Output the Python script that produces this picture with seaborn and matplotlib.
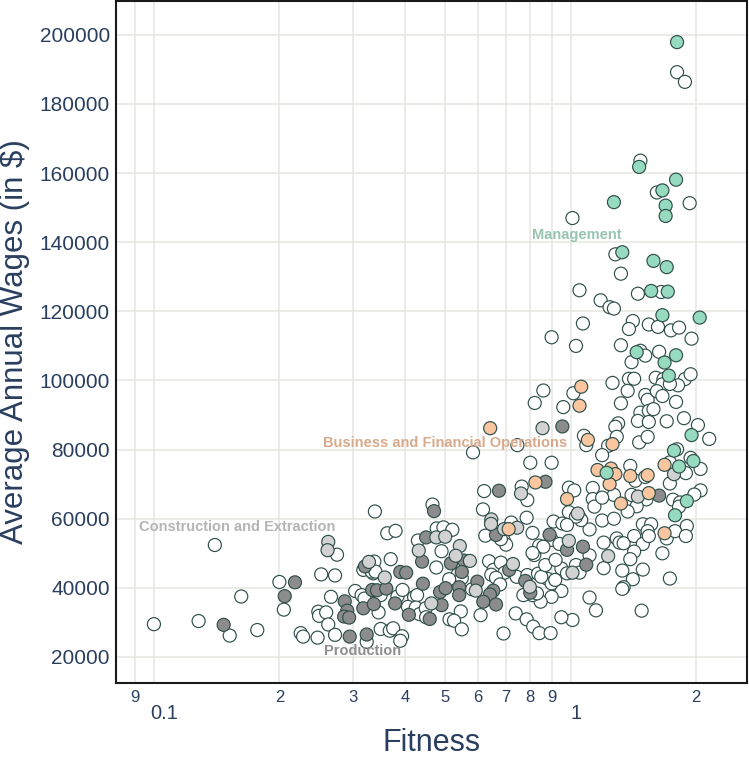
import matplotlib
matplotlib.use("Agg")
import matplotlib.pyplot as plt
from matplotlib.ticker import FixedLocator, NullLocator
import pandas as pd
import seaborn as sns

# (fitness, average annual wage)
management = [
    (1.80, 197900), (1.46, 161800), (1.79, 158100), (1.66, 155000), (1.27, 151600),
    (1.69, 150600), (1.69, 147600), (1.33, 137100), (1.58, 134600), (1.70, 132800),
    (1.56, 125900), (1.71, 125700), (1.66, 118900), (2.04, 118200), (1.44, 108200),
    (1.79, 107300), (1.68, 105200), (1.72, 101400), (1.95, 84200), (1.77, 79700),
    (1.97, 76700), (1.82, 75100), (1.22, 73300), (1.90, 65100), (1.78, 61000),
]
business = [
    (1.06, 98200), (1.05, 92700), (0.641, 86200), (0.823, 70500), (0.98, 65700),
    (1.10, 82800), (1.26, 81600), (1.16, 74100), (1.25, 74500), (1.28, 72900),
    (1.39, 72400), (1.53, 72600), (1.24, 70000), (1.54, 67400), (1.32, 64400),
    (1.68, 75600), (1.68, 55800), (0.71, 57000),
]
construction = [
    (0.856, 86200), (0.76, 67300), (0.262, 53300), (0.261, 50900), (0.328, 47500),
    (0.358, 43000), (0.432, 50800), (0.476, 54600), (0.50, 54800), (0.542, 52100),
    (0.53, 49300), (0.573, 47800), (0.645, 59800), (0.644, 58500), (0.692, 57000),
    (0.744, 57400), (0.727, 46900), (0.798, 40300), (0.592, 39200), (0.463, 35500),
    (0.99, 53600), (1.01, 44400), (1.23, 49200), (1.04, 61500), (1.77, 72900),
    (1.45, 66400),
]
production = [
    (0.147, 29300), (0.218, 41600), (0.206, 37600), (0.287, 36100), (0.291, 33400),
    (0.286, 31700), (0.294, 31400), (0.295, 25900), (0.324, 26500), (0.318, 34100),
    (0.321, 46200), (0.337, 35300), (0.334, 39400), (0.343, 39300), (0.361, 39800),
    (0.379, 35500), (0.39, 44600), (0.403, 44400), (0.409, 32200), (0.442, 41200),
    (0.45, 54600), (0.44, 47600), (0.459, 31000), (0.47, 62200), (0.486, 38800),
    (0.49, 35000), (0.501, 39900), (0.516, 47100), (0.54, 40200), (0.54, 37900),
    (0.555, 47900), (0.548, 44600), (0.597, 41800), (0.652, 39200), (0.64, 38100),
    (0.617, 36000), (0.662, 35200), (0.662, 55300), (0.673, 68100), (0.712, 45200),
    (0.778, 42000), (0.80, 38600), (0.87, 70700), (0.89, 55400), (0.955, 86700),
    (0.98, 51000), (1.07, 51900), (1.09, 46700), (1.63, 66700),
]
other = [
    (1.80, 189200), (1.88, 186400), (1.47, 163600), (1.61, 154400), (1.93, 151300),
    (1.01, 147000), (1.28, 136500), (1.32, 130900), (1.05, 126100), (1.45, 125100),
    (1.65, 125600), (1.18, 123200), (1.24, 121200), (1.27, 120800), (1.07, 116500),
    (1.41, 117200), (1.38, 114900), (1.54, 116200), (1.62, 115500), (1.74, 114500),
    (1.82, 115300), (0.90, 112500), (1.03, 110000), (1.32, 110200), (1.95, 112100),
    (1.47, 108600), (1.51, 107200), (1.63, 108300), (1.40, 105300), (1.38, 100500),
    (1.42, 100500), (1.60, 100800), (1.67, 100400), (1.66, 98900), (1.88, 100400),
    (1.94, 101800), (1.81, 98600), (1.26, 99300), (1.015, 96300), (0.86, 97100),
    (0.82, 93500), (0.96, 92300), (1.37, 97000), (1.51, 95800), (1.53, 94400),
    (1.61, 96900), (1.66, 95500), (1.73, 99000), (1.79, 93800), (1.32, 93400),
    (1.47, 90700), (1.54, 91200), (1.58, 91700), (1.45, 88300), (1.54, 88000),
    (1.70, 88200), (1.87, 89100), (1.30, 87600), (1.28, 86600), (2.02, 87100),
    (2.15, 83100), (1.076, 84000), (1.09, 81300), (1.23, 81100), (1.29, 83700),
    (1.46, 82100), (1.53, 83700), (1.19, 78400), (1.80, 80100), (1.94, 77600),
    (2.05, 74400), (1.73, 76300), (1.89, 73200), (1.39, 75300), (1.43, 71000),
    (1.51, 72100), (1.73, 70200), (0.99, 69000), (1.02, 68200), (1.13, 68900),
    (1.27, 66900), (1.40, 66900), (1.52, 65600), (2.05, 68200), (1.98, 67000),
    (1.76, 65500), (1.83, 64700), (1.13, 65700), (1.14, 63500), (1.19, 66100),
    (1.44, 63600), (1.37, 62100), (1.82, 63500), (0.99, 61900), (1.05, 60400),
    (1.19, 59500), (1.27, 60000), (1.49, 58400), (1.56, 58400), (1.90, 57900),
    (1.20, 53100), (1.29, 54300), (1.31, 53100), (1.34, 52900), (1.42, 55000),
    (1.49, 52700), (1.53, 56400), (1.54, 55000), (1.70, 54300), (1.78, 56400),
    (1.89, 55000), (1.42, 50500), (1.39, 48300), (1.33, 45000), (1.49, 45300),
    (1.41, 42500), (1.66, 50000), (1.34, 40200), (1.33, 39700), (1.73, 42700),
    (1.11, 37200), (1.15, 33500), (1.48, 33400), (1.01, 30700), (0.95, 31500),
    (0.95, 39100), (1.11, 49400), (1.20, 45700), (1.03, 46600), (1.05, 44400),
    (0.95, 45600), (0.98, 44200), (0.90, 53900), (0.94, 52700), (1.11, 56900),
    (1.06, 59600), (1.03, 60600), (0.91, 59200), (0.955, 58600), (0.98, 58200),
    (0.583, 79200), (0.745, 81300), (0.80, 76200), (0.90, 76200), (0.62, 68000),
    (0.763, 69300), (0.787, 65400), (0.466, 64100), (0.616, 62700), (0.339, 62100),
    (0.784, 60300), (0.81, 55900), (0.624, 55100), (0.69, 53900), (0.70, 52500),
    (0.68, 54100), (0.72, 58900), (0.363, 55800), (0.38, 56500), (0.43, 53700),
    (0.477, 57200), (0.495, 57500), (0.52, 56800), (0.49, 50600), (0.637, 47700),
    (0.653, 45200), (0.476, 45900), (0.536, 43900), (0.548, 42800), (0.511, 42500),
    (0.338, 47600), (0.336, 44200), (0.37, 48300), (0.275, 49600), (0.252, 43900),
    (0.272, 43600), (0.318, 45200), (0.333, 44700), (0.34, 44700), (0.20, 41700),
    (0.205, 33700), (0.266, 37400), (0.304, 39100), (0.315, 37900), (0.32, 36900),
    (0.248, 33100), (0.249, 31900), (0.259, 32900), (0.262, 29400), (0.35, 37900),
    (0.384, 37500), (0.395, 39400), (0.421, 37300), (0.428, 37900), (0.346, 32900),
    (0.407, 34500), (0.425, 34300), (0.434, 32400), (0.449, 34100), (0.45, 31500),
    (0.225, 26900), (0.228, 25900), (0.247, 25600), (0.272, 26400), (0.324, 24400),
    (0.35, 28100), (0.368, 27600), (0.375, 28300), (0.394, 26000), (0.39, 24700),
    (0.10, 29500), (0.128, 30400), (0.152, 26200), (0.14, 52400), (0.162, 37500),
    (0.177, 27800), (0.545, 33200), (0.512, 30900), (0.525, 30500), (0.548, 28000),
    (0.608, 32100), (0.738, 32600), (0.784, 30900), (0.813, 28800), (0.841, 26900),
    (0.895, 26900), (0.69, 26800), (0.90, 37400), (0.847, 36000), (0.81, 37900),
    (0.77, 37900), (0.83, 38400), (0.88, 42600), (0.90, 41300), (0.918, 42300),
    (0.742, 43200), (0.787, 43700), (0.835, 44100), (0.85, 43200), (0.818, 49500),
    (0.869, 46600), (0.92, 48100), (0.68, 47300), (0.694, 44400), (0.645, 43800),
    (0.662, 42900), (0.677, 41000), (0.58, 39600), (0.84, 52200), (0.86, 51900),
    (0.81, 50100),
]

groups = {
    "Other": other,
    "Production": production,
    "Construction and Extraction": construction,
    "Business and Financial Operations": business,
    "Management": management,
}
fill_colors = {
    "Other": "#ffffff",
    "Production": "#8c8c8c",
    "Construction and Extraction": "#d2d2d2",
    "Business and Financial Operations": "#f9c6a0",
    "Management": "#96dabf",
}
# group label, position (fitness, wage), text colour
labels = [
    ("Management", 1.036, 142100, "#98c4b0"),
    ("Business and Financial Operations", 0.50, 82000, "#d8a98a"),
    ("Construction and Extraction", 0.1585, 57700, "#b4b4b4"),
    ("Production", 0.3168, 21700, "#8e8e8e"),
]

grid_x = [0.09, 0.1, 0.2, 0.3, 0.4, 0.5, 0.6, 0.7, 0.8, 0.9, 1, 2]
grid_x_labels = ["9", "", "2", "3", "4", "5", "6", "7", "8", "9", "", "2"]
decade_labels = [("0.1", 0.1, 7.2), ("1", 1, 3.6)]
y_ticks = list(range(20000, 200001, 20000))

frames = []
for name, pts in groups.items():
    part = pd.DataFrame(pts, columns=["fitness", "wage"])
    part["group"] = name
    frames.append(part)
df = pd.concat(frames, ignore_index=True)

sns.set_style("white")
plt.rcParams["font.family"] = ["Liberation Sans", "DejaVu Sans"]
navy = "#2a3f5f"

fig = plt.figure(figsize=(7.49, 7.60), dpi=100)
ax = fig.add_axes([0.1549, 0.1013, 0.8425, 0.8974])

sns.scatterplot(
    data=df, x="fitness", y="wage", hue="group", palette=fill_colors,
    s=88, edgecolor="#2f4f4b", linewidth=0.85, legend=False, ax=ax, zorder=3,
)

ax.set_xscale("log")
ax.set_xlim(0.0811, 2.65)
ax.set_ylim(12470, 209800)
ax.xaxis.set_major_locator(FixedLocator(grid_x))
ax.xaxis.set_minor_locator(NullLocator())
ax.set_xticklabels(grid_x_labels)
ax.set_yticks(y_ticks)
ax.set_yticklabels([str(v) for v in y_ticks])
ax.grid(True, color="#e6e6e1", linewidth=1.1)
ax.set_axisbelow(True)

ax.tick_params(axis="x", length=0, pad=5, labelsize=12, labelcolor=navy)
ax.tick_params(axis="y", length=0, pad=4.5, labelsize=15, labelcolor=navy)
for text, xv, dx in decade_labels:
    ax.annotate(text, xy=(xv, 0), xycoords=("data", "axes fraction"),
                xytext=(dx, -21.6), textcoords="offset points",
                ha="center", va="center", fontsize=14.5, color=navy)

for text, xv, yv, col in labels:
    ax.text(xv, yv, text, ha="center", va="center", fontsize=10.5,
            fontweight="bold", color=col, zorder=4)

ax.set_xlabel("Fitness", fontsize=22, color=navy)
ax.set_ylabel("Average Annual Wages (in $)", fontsize=22.5, color=navy)
ax.xaxis.set_label_coords(0.5, -0.066)
ax.yaxis.set_label_coords(-0.136, 0.5)

for sp in ax.spines.values():
    sp.set_color("#1a1a1a")
    sp.set_linewidth(1.5)

fig.savefig("out.png", dpi=100)
